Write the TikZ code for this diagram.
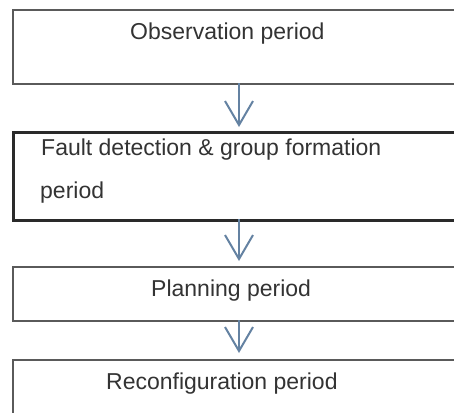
\documentclass[tikz,border=0pt]{standalone}
\usepackage{fontspec}
\setmainfont{Liberation Sans}
\usetikzlibrary{arrows.meta}
\definecolor{boxgray}{HTML}{5A5A5A}
\definecolor{boxdark}{HTML}{2A2A2A}
\definecolor{txt}{HTML}{333333}
\definecolor{arrowblue}{HTML}{6482A2}
\begin{document}
\begin{tikzpicture}[x=1pt,y=-1pt,
  stagebox/.style={draw=boxgray,line width=1.8pt,fill=white,inner sep=0pt,anchor=north west},
  thickbox/.style={draw=boxdark,line width=2.8pt,fill=white,inner sep=0pt,anchor=north west},
  lbl/.style={font=\fontsize{23}{28}\selectfont,text=txt,inner sep=0pt,anchor=base west},
  flow/.style={draw=arrowblue,line width=2pt,shorten >=4pt,
    -{Straight Barb[length=24pt,width=28pt,line width=2pt]}}]
\useasboundingbox (0,0) rectangle (454,412);
\clip (0,0) rectangle (454,412);
\fill[white] (0,0) rectangle (454,412);
\node[stagebox,minimum width=460pt,minimum height=74pt] (obs) at (12,9) {};
\node[thickbox,minimum width=460pt,minimum height=88pt] (fault) at (12,131) {};
\node[stagebox,minimum width=460pt,minimum height=54pt] (plan) at (12,266) {};
\node[stagebox,minimum width=460pt,minimum height=80pt] (reconf) at (12,359) {};
\node[lbl] (t1) at (130,40) {Observation period};
\node[lbl] (t2a) at (41,155) {Fault detection \& group formation};
\node[lbl] (t2b) at (40,198) {period};
\node[lbl] (t3) at (151,296) {Planning period};
\node[lbl] (t4) at (106,389) {Reconfiguration period};
\coordinate (a1s) at (239,83);
\coordinate (a1e) at (239,131);
\coordinate (a2s) at (239,219);
\coordinate (a2e) at (239,265);
\coordinate (a3s) at (239,320);
\coordinate (a3e) at (239,357);
\draw[flow] (a1s) -- (a1e);
\draw[flow] (a2s) -- (a2e);
\draw[flow] (a3s) -- (a3e);
\end{tikzpicture}
\end{document}
